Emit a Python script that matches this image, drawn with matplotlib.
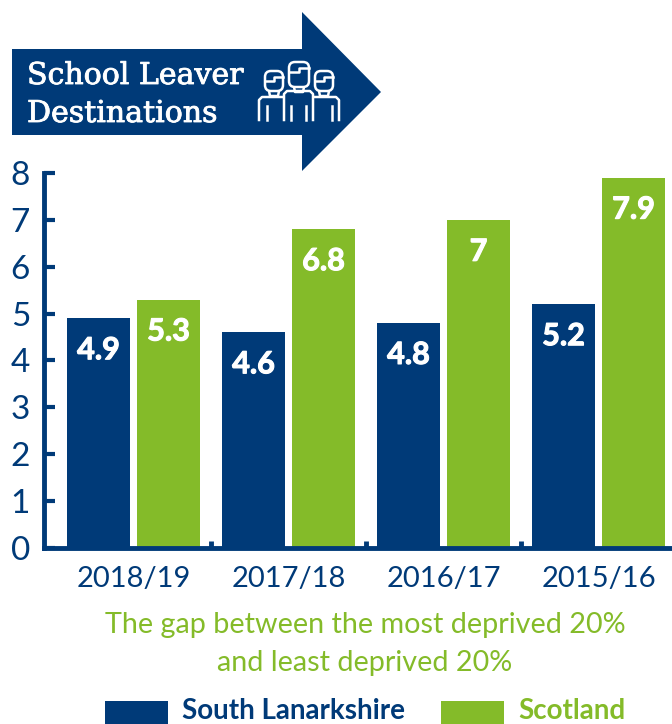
import numpy as np
import matplotlib.pyplot as plt
import matplotlib.patheffects as pe
from matplotlib.patches import Polygon, Rectangle, FancyBboxPatch

# data
years = ['2018/19', '2017/18', '2016/17', '2015/16']
south_lanarkshire = [4.9, 4.6, 4.8, 5.2]
scotland = [5.3, 6.8, 7, 7.9]
y_ticks = [0, 1, 2, 3, 4, 5, 6, 7, 8]

navy = '#003A78'
green = '#84BB29'

plt.rcParams['font.family'] = ['Lato', 'Liberation Sans']

W, H = 672, 724
fig = plt.figure(figsize=(W / 100, H / 100), dpi=100)

# plot area, placed in pixels
left, right, top, bottom = 44, 672, 173, 548
ax = fig.add_axes([left / W, 1 - bottom / H, (right - left) / W, (bottom - top) / H])

x = np.arange(len(years))
bar_w = 63 / 155
off = 35 / 155
ax.bar(x - off, south_lanarkshire, bar_w, color=navy)
ax.bar(x + off, scotland, bar_w, color=green)

heavy = [pe.withStroke(linewidth=0.8, foreground='white')]
for xs, vals in ((x - off, south_lanarkshire), (x + off, scotland)):
    for xi, v in zip(xs, vals):
        ax.annotate(str(v), (xi, v), xytext=(0, -23), textcoords='offset points',
                    ha='center', va='center', color='white', fontsize=22, fontweight='bold',
                    path_effects=heavy)

ax.set_xlim(-89.5 / 155, 538.5 / 155)
ax.set_ylim(0, 8)
ax.set_yticks(y_ticks)
ax.set_xticks(x)
ax.set_xticklabels(years)
ax.set_xticks(x[:-1] + 0.5, minor=True)

ax.tick_params(axis='y', direction='in', length=8, width=3, color=navy, labelcolor=navy,
               labelsize=24, pad=10)
ax.tick_params(axis='x', which='major', length=0, labelcolor=navy, labelsize=21, pad=13)
ax.tick_params(axis='x', which='minor', direction='in', length=5, width=3.5, color=navy)

for side in ('top', 'right'):
    ax.spines[side].set_visible(False)
for side in ('left', 'bottom'):
    ax.spines[side].set_color(navy)
    ax.spines[side].set_linewidth(3.5)

# header, subtitle and key sit on a full-figure layer in pixel units
ov = fig.add_axes([0, 0, 1, 1], facecolor='none')
ov.set_xlim(0, W)
ov.set_ylim(H, 0)
ov.axis('off')

ov.add_patch(Polygon([(12, 49), (302, 49), (302, 12), (381, 92), (302, 171), (302, 135), (12, 135)],
                     closed=True, color=navy, lw=0))
heavier = [pe.withStroke(linewidth=0.6, foreground='white')]
for yb, line in ((84, 'School Leaver'), (122, 'Destinations')):
    ov.text(27, yb, line, color='white', fontsize=21.6, family=['DejaVu Serif'], va='baseline',
            path_effects=heavier)

# three figures icon: heads, fringes, collars, shoulders and sleeves
lw = 1.8
for hx, hy, hw, hh in ((265, 71, 18, 20), (289, 62, 20, 25), (315, 71, 18, 20)):
    ov.add_patch(FancyBboxPatch((hx, hy), hw, hh, boxstyle='round,pad=0,rounding_size=6',
                                fc=navy, ec='white', lw=lw, zorder=3))
    ov.plot([hx, hx + hw * 0.5, hx + hw * 0.5, hx + hw], [hy + 10, hy + 10, hy + 6, hy + 6],
            color='white', lw=lw, zorder=4)
    cx = hx + hw / 2
    ov.plot([cx - 5, cx - 4, cx + 4, cx + 5], [hy + hh, hy + hh + 5, hy + hh + 5, hy + hh],
            color='white', lw=lw, zorder=2)
ov.plot([259, 259, 262, 283], [120, 100, 97, 97], color='white', lw=lw)
ov.plot([284, 284, 287, 310, 313, 313], [120, 94, 91, 91, 94, 120], color='white', lw=lw)
ov.plot([314, 336, 339, 339], [97, 97, 100, 120], color='white', lw=lw)
for xv in (267, 291, 306, 332):
    ov.plot([xv, xv], [106, 120], color='white', lw=lw)

ov.text(365, 625, 'The gap between the most deprived 20%', color=green, fontsize=20.7,
        ha='center', va='center')
ov.text(365, 663, 'and least deprived 20%', color=green, fontsize=20.7, ha='center', va='center')

# key along the bottom edge
ov.add_patch(Rectangle((105, 701), 63, 30, color=navy, lw=0))
ov.add_patch(Rectangle((441, 701), 63, 30, color=green, lw=0))
ov.text(182, 711, 'South Lanarkshire', color=navy, fontsize=20, fontweight='bold', va='center')
ov.text(518, 711, 'Scotland', color=green, fontsize=20, fontweight='bold', va='center')

fig.savefig('out.png', dpi=100)
